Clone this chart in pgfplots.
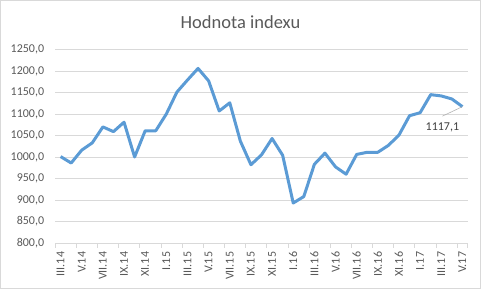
\documentclass[border=0pt]{standalone}
\usepackage{pgfplots}
\pgfplotsset{compat=1.18}
\usepackage{fontspec}
\setmainfont{Carlito}
\definecolor{txt}{HTML}{595959}
\definecolor{lbl}{HTML}{404040}
\definecolor{gridc}{HTML}{D9D9D9}
\definecolor{ser}{HTML}{5B9BD5}
\begin{document}
\begin{tikzpicture}
\path[use as bounding box] (0,0) rectangle (481bp,289bp);
\draw[gridc, line width=0.8bp] (0.5bp,0.5bp) rectangle (480.5bp,288.5bp);
\node[text=txt, font=\fontsize{18.5bp}{22bp}\selectfont] at (240.5bp,267bp) {Hodnota indexu};
\begin{axis}[
  at={(55.3bp,46bp)}, anchor=south west,
  scale only axis, width=412.4bp, height=193.5bp,
  xmin=-0.5, xmax=38.5, ymin=800, ymax=1250,
  ytick={800,850,...,1250},
  xtick={0,2,...,38},
  xticklabels={III.14,V.14,VII.14,IX.14,XI.14,I.15,III.15,V.15,VII.15,IX.15,XI.15,I.16,III.16,V.16,VII.16,IX.16,XI.16,I.17,III.17,V.17},
  minor xtick={-0.5,1.5,...,37.5,38.5},
  major tick length=0pt,
  minor tick length=4.7bp,
  tick align=outside,
  xtick pos=bottom, ytick pos=left,
  axis x line*=bottom, axis y line*=left,
  x axis line style={draw=gridc, line width=0.8bp},
  y axis line style={draw=none},
  every minor tick/.style={draw=gridc, line width=0.8bp},
  ymajorgrids, major grid style={draw=gridc, line width=0.8bp},
  tick label style={text=txt, font=\fontsize{12bp}{14bp}\selectfont},
  yticklabel style={anchor=east, inner sep=0pt},
  yticklabel shift=11bp,
  xticklabel style={rotate=90, anchor=east, inner sep=0pt},
  xticklabel shift=8.7bp,
  /pgf/number format/.cd, fixed, fixed zerofill, precision=1, use comma, 1000 sep={}, assume math mode=true,
]
\addplot[ser, line width=3bp, line join=round, mark=none] coordinates {
(0,1001) (1,986) (2,1016) (3,1033) (4,1070) (5,1059) (6,1081) (7,1000)
(8,1061) (9,1061) (10,1100) (11,1151) (12,1179) (13,1206) (14,1177)
(15,1107) (16,1126) (17,1037) (18,982) (19,1005) (20,1043) (21,1004)
(22,893) (23,908) (24,983) (25,1009) (26,977) (27,960) (28,1006)
(29,1011) (30,1011) (31,1027) (32,1051) (33,1096) (34,1103) (35,1145)
(36,1142) (37,1135) (38,1117.1)
};
\draw[gray!60, line width=0.6bp] (axis cs:38,1117.1) -- ++(-20bp,-9.5bp);
\node[text=lbl, font=\fontsize{12bp}{14bp}\selectfont, inner sep=0pt] at ([xshift=-20bp,yshift=-20.5bp]axis cs:38,1117.1) {1117,1};
\end{axis}
\end{tikzpicture}
\end{document}
